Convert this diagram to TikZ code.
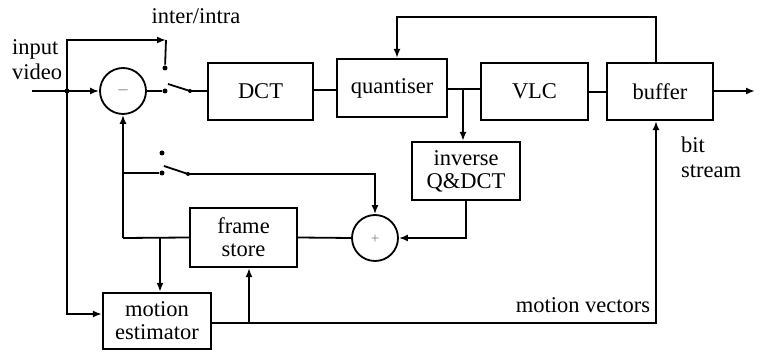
\documentclass[tikz,border=0pt]{standalone}
\usepackage{fontspec}
\setmainfont{Liberation Serif}
\usetikzlibrary{arrows.meta,calc}
\begin{document}
\begin{tikzpicture}[x=1pt,y=-1pt,
  line width=1.8pt, line join=miter,
  every node/.style={font=\fontsize{22.5}{27}\selectfont},
  blk/.style={draw, rectangle, inner sep=0pt, align=center, line width=2.2pt},
  summer/.style={draw, circle, minimum size=46pt, inner sep=0pt, line width=1.8pt},
  arr/.style={-{Latex[length=9pt,width=7pt]}},
  contact/.style={circle, fill, inner sep=0pt, minimum size=5pt},
  lbl/.style={align=left}]
\useasboundingbox (0,0) rectangle (764,352);
% blocks
\node[blk, minimum width=105pt, minimum height=57pt] (dct) at (260.5,91.5) {DCT};
\node[blk, minimum width=110pt, minimum height=58pt] (quant) at (392,88) {quantiser};
\node[blk, minimum width=107pt, minimum height=57pt] (vlc) at (534.5,91.5) {VLC};
\node[blk, minimum width=106pt, minimum height=57pt] (buf) at (660,91.5) {buffer};
\node[blk, minimum width=108pt, minimum height=58pt] (inv) at (466,171) {inverse\\[-4pt]Q\&DCT};
\node[blk, minimum width=107pt, minimum height=59pt] (fs) at (243.5,237.5) {frame\\[-4pt]store};
\node[blk, minimum width=108pt, minimum height=56pt] (me) at (157,321) {motion\\[-4pt]estimator};
\node[summer] (sub) at (123,91) {};
\node[text=gray, font=\fontsize{18}{18}\selectfont] (subsign) at (123,92) {\textendash};
\node[summer] (add) at (375,238) {};
\node[text=gray, font=\fontsize{15}{15}\selectfont] (addsign) at (375,239) {+};
% labels
\node[lbl] (inlbl) at (37,60) {input\\[-2pt]video};
\node (ii) at (196,16) {inter/intra};
\node[lbl, anchor=west] (bs) at (677,157) {bit\\[-2pt]stream};
\node (mv) at (583,305) {motion vectors};
% coordinates
\coordinate (in) at (32,91);
\coordinate (j1) at (67,91);
\coordinate (t1) at (166,40);
\coordinate (j2) at (463,90);
\coordinate (j3) at (160,238);
\coordinate (j4) at (249,323);
\coordinate (sw1piv) at (190,91);
\coordinate (sw2piv) at (188,174);
\coordinate (vtap) at (123,238);
\coordinate (mvend) at (656,323);
\coordinate (fbtop) at (656,17);
% switch contacts
\node[contact] (s1a) at (165,91) {};
\node[contact] (s1b) at (165,68) {};
\node[contact, minimum size=4pt] (s1p) at (sw1piv) {};
\node[contact] (s2a) at (162,173) {};
\node[contact] (s2b) at (162,153) {};
\node[contact, minimum size=4pt] (s2p) at (sw2piv) {};
\fill (j1) circle (2.5pt);
% input
\draw[arr] (in) -- (sub.west);
\draw[arr] (j1) |- (t1);
\draw (t1) -- (s1b);
\draw[arr] (j1) |- ($(me.west)+(0,-7)$);
% main row
\draw (sub.east) -- (s1a);
\draw (168,84) -- (sw1piv);
\draw (sw1piv) -- (dct.west |- sw1piv);
\draw (dct.east |- 0,90) -- (quant.west |- 0,90);
\draw (quant.east |- 0,89) -- (vlc.west |- 0,89);
\draw (vlc.east |- 0,92) -- (buf.west |- 0,92);
\draw[arr] (buf.east |- 0,91) -- (755,91);
% rate control feedback
\draw[arr] (fbtop |- buf.north) -- (fbtop) -| (quant.north -| 397,0);
% inverse path
\draw[arr] (j2) -- (j2 |- inv.north);
\draw[arr] (inv.south) |- (add.east);
% prediction loop
\draw (fs.west) -- (vtap);
\draw[arr] (vtap) -- (sub.south);
\draw (123,173) -- (s2a);
\draw (164,166) -- (sw2piv);
\draw[arr] (sw2piv) -| (add.north);
\draw (add.west) -- (fs.east);
\draw[arr] (j3) -- (j3 |- me.north);
% motion vectors
\draw[arr] (me.east |- j4) -- (mvend) -- (mvend |- buf.south);
\draw[arr] (j4) -- (j4 |- fs.south);
\end{tikzpicture}
\end{document}
